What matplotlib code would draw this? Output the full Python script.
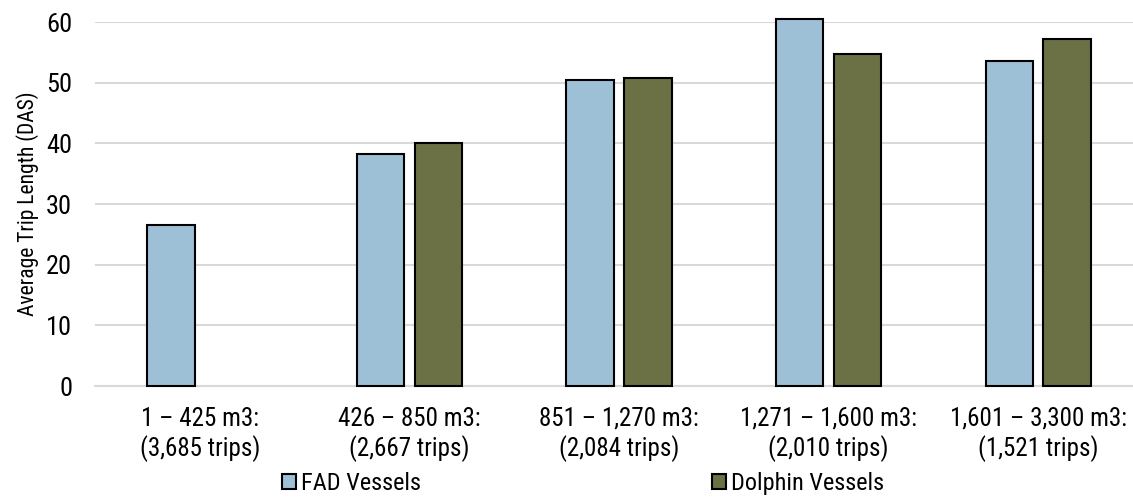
import matplotlib.pyplot as plt
import numpy as np

plt.rcParams['font.family'] = ['Roboto Condensed', 'Archivo Narrow', 'Liberation Sans', 'DejaVu Sans']

categories = ['1 – 425 m3:\n(3,685 trips)', '426 – 850 m3:\n(2,667 trips)',
              '851 – 1,270 m3:\n(2,084 trips)', '1,271 – 1,600 m3:\n(2,010 trips)',
              '1,601 – 3,300 m3:\n(1,521 trips)']
fad = [26.5, 38.2, 50.5, 60.5, 53.6]
dolphin = [np.nan, 40.0, 50.8, 54.7, 57.2]

fig = plt.figure(figsize=(11.33, 5), dpi=100)
ax = fig.add_axes([95 / 1133, 1 - 386 / 500, 1048 / 1133, 364 / 500])

x = np.arange(len(categories))
w = 0.226
ax.bar(x - 0.138, fad, w, color='#9DC0D7', edgecolor='black', linewidth=1.5,
       label='FAD Vessels', zorder=3, clip_on=False)
ax.bar(x + 0.138, dolphin, w, color='#6B7045', edgecolor='black', linewidth=1.5,
       label='Dolphin Vessels', zorder=3, clip_on=False)

ax.set_xlim(-0.5, 4.5)
ax.set_ylim(0, 60)
ax.set_yticks(range(0, 61, 10))
ax.yaxis.grid(True, color='#D9D9D9', linewidth=1.5, zorder=0)
ax.set_xticks(x)
ax.set_xticklabels(categories, fontsize=18, linespacing=1.2)
ax.tick_params(axis='y', labelsize=19, length=0, pad=16.5)
ax.tick_params(axis='x', length=0, pad=15)
for s in ['top', 'right', 'left']:
    ax.spines[s].set_visible(False)
ax.spines['bottom'].set_color('#D9D9D9')
ax.spines['bottom'].set_linewidth(1.5)
ax.set_ylabel('Average Trip Length (DAS)', fontsize=15.5)
ax.yaxis.set_label_coords(-0.0534, 0.5)

fig.legend(loc='lower left', bbox_to_anchor=(272 / 1133, -0.01), ncol=2, frameon=False,
           fontsize=17.5, handlelength=0.58, handleheight=0.58, handletextpad=0.2,
           columnspacing=12.0, borderaxespad=0)

fig.savefig('out.png', dpi=100)
